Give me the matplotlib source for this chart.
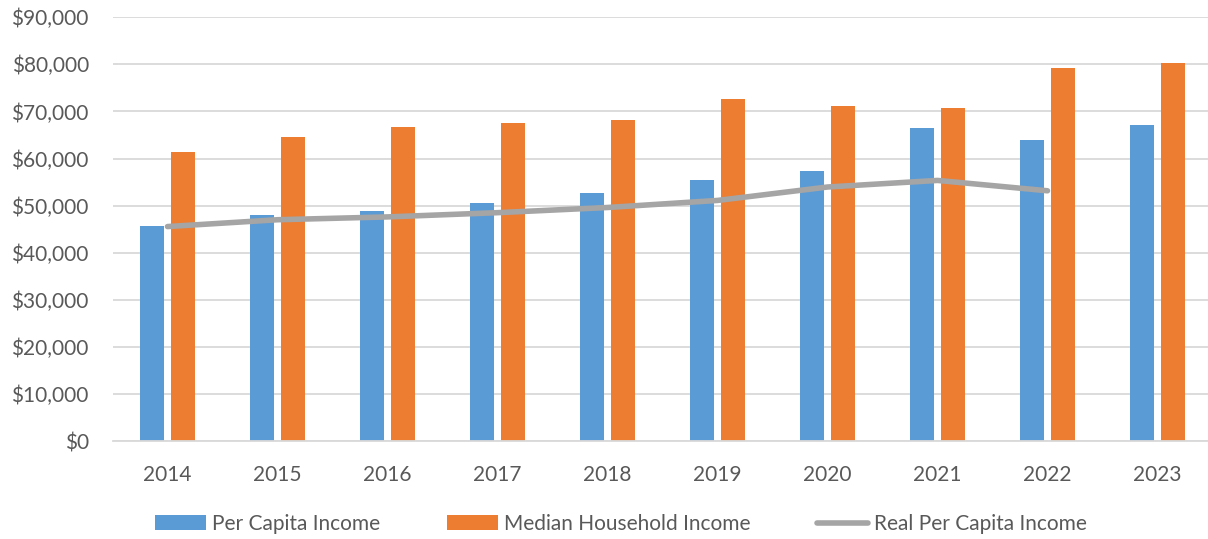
import matplotlib
matplotlib.use("Agg")
import matplotlib.pyplot as plt
import numpy as np
from matplotlib.ticker import FuncFormatter

years = ["2014", "2015", "2016", "2017", "2018", "2019", "2020", "2021", "2022", "2023"]
per_capita = [45700, 48100, 48950, 50600, 52700, 55400, 57250, 66500, 64000, 67150]
median_household = [61400, 64600, 66650, 67550, 68150, 72700, 71100, 70700, 79300, 80350]
real_per_capita = [45550, 47000, 47600, 48500, 49600, 51100, 53950, 55350, 53150, np.nan]

plt.rcParams['font.family'] = ['Lato', 'DejaVu Sans']
text_color = '#595959'

fig = plt.figure(figsize=(12.08, 5.39), dpi=100)
W, H = 1208, 539
left_px, right_px = 112.5, 1212.5
top_px, bottom_px = 17.3, 441.0
ax = fig.add_axes([left_px / W, (H - bottom_px) / H, (right_px - left_px) / W, (bottom_px - top_px) / H])

x = np.arange(len(years))
bw = 0.223
off = 0.143
b1 = ax.bar(x - off, per_capita, width=bw, color='#5B9BD5', label='Per Capita Income', zorder=2)
b2 = ax.bar(x + off, median_household, width=bw, color='#ED7D31', label='Median Household Income', zorder=2)
l1, = ax.plot(x, real_per_capita, color='#A5A5A5', lw=4, solid_capstyle='round', solid_joinstyle='round',
              label='Real Per Capita Income', zorder=3)

ax.set_xlim(-0.5, 9.5)
ax.set_ylim(0, 90000)
ax.set_yticks(np.arange(0, 90001, 10000))
ax.yaxis.set_major_formatter(FuncFormatter(lambda v, p: f"${v:,.0f}"))
ax.set_xticks(x)
ax.set_xticklabels(years)

ax.grid(axis='y', color='#D9D9D9', lw=1.3, zorder=0)
ax.set_axisbelow(True)
for s in ['top', 'right', 'left']:
    ax.spines[s].set_visible(False)
ax.spines['bottom'].set_color('#D9D9D9')
ax.spines['bottom'].set_linewidth(1.3)
ax.tick_params(axis='both', length=0, labelsize=15, labelcolor=text_color)
ax.tick_params(axis='x', pad=17)
ax.tick_params(axis='y', pad=17)

fig.legend(handles=[b1, b2, l1], loc='center', bbox_to_anchor=(0.514, 0.028), ncol=3, frameon=False,
           fontsize=15, handlelength=2.45, handleheight=0.7, handletextpad=0.3,
           columnspacing=3.2, labelcolor=text_color)

fig.savefig('out.png', dpi=100)
